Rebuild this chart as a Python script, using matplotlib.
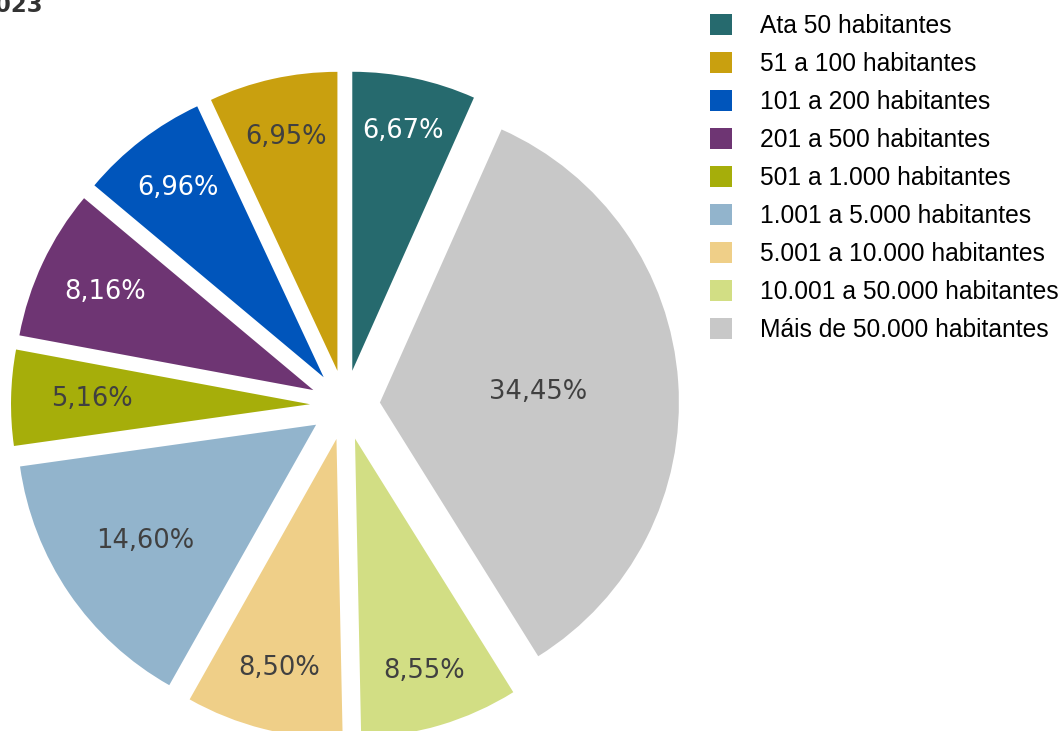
"""Pie chart: share by municipality size (2023)."""
import matplotlib

matplotlib.use("Agg")
import matplotlib.pyplot as plt
import numpy as np
from matplotlib.patches import Patch

# Data (legend order, drawn counter-clockwise from the top)
categories = [
    "Ata 50 habitantes",
    "51 a 100 habitantes",
    "101 a 200 habitantes",
    "201 a 500 habitantes",
    "501 a 1.000 habitantes",
    "1.001 a 5.000 habitantes",
    "5.001 a 10.000 habitantes",
    "10.001 a 50.000 habitantes",
    "Máis de 50.000 habitantes",
]
shares = [6.67, 6.95, 6.96, 8.16, 5.16, 14.60, 8.50, 8.55, 34.45]
colors = ["#266A6E", "#C9A00F", "#0055BB", "#6E3573", "#A6AE0A",
          "#92B4CC", "#EFCF88", "#D2DE84", "#C8C8C8"]
label_colors = ["white", "#404040", "white", "white", "#404040",
                "#404040", "#404040", "#404040", "#404040"]
# radial position of each percentage label (fraction of radius)
label_dist = [0.82, 0.80, 0.80, 0.77, 0.73, 0.69, 0.79, 0.81, 0.53]

W, H = 1062, 731
R = 299.0           # pie radius in px
CX, CY = 345, 405   # pie centre in px (from top-left)

fig = plt.figure(figsize=(W / 100, H / 100), dpi=100)
ax = fig.add_axes([0, 0, 1, 1])

start = 90 - shares[0] / sum(shares) * 360
wedges, _texts, autotexts = ax.pie(
    shares,
    colors=colors,
    explode=[0.117] * len(shares),
    startangle=start,
    counterclock=True,
    autopct=lambda p: f"{p:.2f}%".replace(".", ","),
    pctdistance=0.8,
    wedgeprops=dict(linewidth=0),
    textprops=dict(fontsize=18.5, family="DejaVu Sans"),
)

for w, t, d, c in zip(wedges, autotexts, label_dist, label_colors):
    th = np.deg2rad((w.theta1 + w.theta2) / 2)
    cx, cy = w.center
    t.set_position((cx + d * np.cos(th), cy + d * np.sin(th)))
    t.set_color(c)

ax.set_xlim(-CX / R, (W - CX) / R)
ax.set_ylim(-(H - CY) / R, CY / R)
ax.set_aspect("equal", adjustable="box")
ax.axis("off")

# title is cropped at the top-left corner in the source image
fig.text(43 / W, 1 - 12 / H, "2023", ha="right", va="baseline",
         fontsize=16.5, fontweight="bold", color="#333333", family="DejaVu Sans")

handles = [Patch(facecolor=c, edgecolor="none") for c in colors]
fig.legend(
    handles, categories,
    loc="upper left", bbox_to_anchor=(710 / W, 1 - 14 / H),
    frameon=False, borderpad=0, borderaxespad=0,
    handlelength=0.9, handleheight=0.9, handletextpad=1.15,
    labelspacing=0.57,
    prop=dict(family="Liberation Sans", size=17.7),
)

fig.savefig("out.png", dpi=100)
